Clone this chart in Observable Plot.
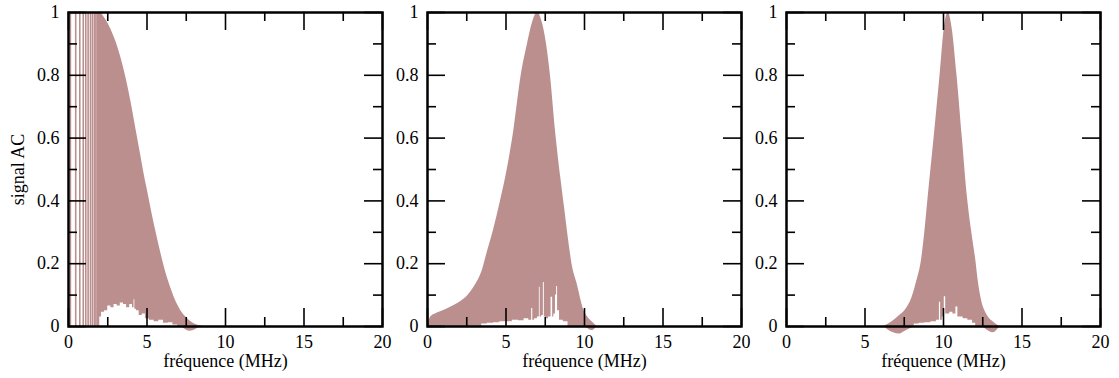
<!DOCTYPE html>
<html>
<head>
<meta charset="utf-8">
<script src="https://cdn.jsdelivr.net/npm/d3@7"></script>
<script src="https://cdn.jsdelivr.net/npm/@observablehq/plot@0.6"></script>
<style>
  html, body { margin: 0; padding: 0; background: #fff; }
  #chart { position: relative; width: 1119px; height: 378px; }
  #chart svg text { font-family: "Liberation Serif", "Times New Roman", serif !important; font-size: 18px !important; }
</style>
</head>
<body>
<div id="chart"></div>
<script>
// ---- tick values ----
const xMajor = [0, 5, 10, 15, 20];
const xMinor = [2.5, 7.5, 12.5, 17.5];
const yMajor = [0, 0.2, 0.4, 0.6, 0.8, 1];
const yMinor = [0.1, 0.3, 0.5, 0.7, 0.9];
const xTitle = "fréquence (MHz)";
const yTitle = "signal AC";

// ---- panel 1 (broadband, low frequencies) ----
const p1Lines = [0.12, 0.46, 0.72, 0.94, 1.1, 1.25, 1.4, 1.53, 1.66, 1.75, 1.85];
const p1Freq  = [1.9, 2.0, 2.2, 2.4, 2.6, 2.8, 3.0, 3.2, 3.4, 3.6, 3.8, 4.0, 4.2, 4.4, 4.6, 4.8, 5.0, 5.3, 5.6, 5.9, 6.2, 6.5, 6.8, 7.1, 7.4, 7.7, 8.0, 8.3, 8.6];
const p1Upper = [1.0, 1.0, 0.99, 0.975, 0.957, 0.935, 0.91, 0.88, 0.845, 0.805, 0.76, 0.71, 0.655, 0.6, 0.545, 0.49, 0.44, 0.365, 0.295, 0.23, 0.172, 0.125, 0.085, 0.055, 0.034, 0.019, 0.009, 0.003, 0];
const p1Floor = [0, 0, 0, 0, 0, 0, 0, 0, 0, 0, 0, 0, 0, 0, 0, 0, 0, 0, 0, 0, 0, 0, 0, 0, -0.008, -0.015, -0.012, -0.004, 0];
const p1GapFreq = [1.98, 2.0, 2.2, 2.4, 2.6, 2.8, 3.0, 3.2, 3.4, 3.6, 3.8, 4.0, 4.15, 4.2, 4.25, 4.4, 4.6, 4.8, 5.0, 5.3, 5.6, 5.9, 6.2, 6.5, 6.8, 7.1];
const p1Gap     = [0, 0.03, 0.045, 0.05, 0.065, 0.06, 0.07, 0.065, 0.075, 0.07, 0.06, 0.07, 0.06, 0.085, 0.055, 0.05, 0.035, 0.04, 0.025, 0.02, 0.015, 0.02, 0.01, 0.012, 0.005, 0];

// ---- panel 2 (peak near 7 MHz) ----
const p2Freq  = [0, 0.2, 0.5, 1.0, 1.5, 2.0, 2.5, 3.0, 3.5, 3.8, 4.2, 4.65, 5.0, 5.5, 5.97, 6.37, 6.7, 7.0, 7.3, 7.58, 7.83, 8.15, 8.5, 8.75, 9.0, 9.2, 9.53, 9.96, 10.2, 10.5, 10.8];
const p2Upper = [0, 0.03, 0.04, 0.05, 0.062, 0.076, 0.095, 0.128, 0.18, 0.235, 0.306, 0.4, 0.48, 0.624, 0.8, 0.9, 0.97, 1.0, 0.97, 0.9, 0.8, 0.624, 0.47, 0.37, 0.27, 0.2, 0.136, 0.051, 0.03, 0.014, 0];
const p2Floor = [0, 0, 0, 0, 0, 0, 0, 0, 0, 0, 0, 0, 0, 0, 0, 0, 0, 0, 0, 0, 0, 0, 0, 0, 0, 0, 0, 0, -0.006, -0.013, 0];
const p2GapFreq = [3.3, 3.6, 4.0, 4.4, 4.8, 5.2, 5.6, 6.0, 6.3, 6.6, 6.67, 6.74, 6.9, 7.1, 7.15, 7.2, 7.35, 7.41, 7.47, 7.6, 7.8, 7.94, 8.0, 8.1, 8.2, 8.25, 8.32, 8.5, 8.8, 9.1];
const p2Gap     = [0, 0.008, 0.01, 0.012, 0.015, 0.015, 0.02, 0.018, 0.025, 0.02, 0.057, 0.02, 0.025, 0.03, 0.125, 0.03, 0.035, 0.14, 0.03, 0.025, 0.03, 0.093, 0.03, 0.04, 0.1, 0.127, 0.05, 0.02, 0.015, 0];

// ---- panel 3 (peak near 10.3 MHz) ----
const p3Freq  = [6.2, 6.5, 6.81, 7.2, 7.56, 7.98, 8.3, 8.61, 8.8, 9.0, 9.4, 9.78, 10.05, 10.3, 10.55, 10.86, 11.2, 11.55, 11.8, 12.06, 12.21, 12.43, 12.74, 13.16, 13.6];
const p3Upper = [0, 0.008, 0.018, 0.035, 0.052, 0.09, 0.145, 0.215, 0.295, 0.4, 0.6, 0.8, 0.95, 1.0, 0.95, 0.8, 0.6, 0.4, 0.3, 0.21, 0.146, 0.082, 0.04, 0.015, 0];
const p3Floor = [0, -0.012, -0.02, -0.024, -0.015, -0.005, 0, 0, 0, 0, 0, 0, 0, 0, 0, 0, 0, 0, 0, 0, 0, 0, -0.01, -0.02, 0];
const p3GapFreq = [7.98, 8.3, 8.6, 9.0, 9.4, 9.7, 9.78, 9.85, 10.0, 10.1, 10.18, 10.3, 10.5, 10.7, 10.88, 10.95, 11.1, 11.4, 11.7, 12.0, 12.1];
const p3Gap     = [0, 0.008, 0.01, 0.012, 0.015, 0.02, 0.077, 0.02, 0.03, 0.095, 0.04, 0.04, 0.045, 0.04, 0.062, 0.03, 0.03, 0.025, 0.02, 0.01, 0];

const panels = [
  {left: 0,   freq: p1Freq, upper: p1Upper, floor: p1Floor, gapFreq: p1GapFreq, gap: p1Gap, lines: p1Lines, ylabel: true},
  {left: 359, freq: p2Freq, upper: p2Upper, floor: p2Floor, gapFreq: p2GapFreq, gap: p2Gap, lines: [], ylabel: false},
  {left: 718, freq: p3Freq, upper: p3Upper, floor: p3Floor, gapFreq: p3GapFreq, gap: p3Gap, lines: [], ylabel: false}
];

const fill = "#bc8f8f";
const font = {fontFamily: "Liberation Serif", fontSize: 18};
const majX = 18 / 314 * 20, minX = 9 / 314 * 20;  // tick lengths in data units
const majY = 18 / 314, minY = 9 / 314;
const tickStyle = {stroke: "black", strokeWidth: 1.6};

const chart = document.getElementById("chart");
for (const p of panels) {
  const rows = p.freq.map((f, i) => ({f, lo: p.floor[i], hi: p.upper[i]}));
  const gapRows = p.gapFreq.map((f, i) => ({f, g: p.gap[i]}));
  const svg = Plot.plot({
    width: 400, height: 378,
    marginLeft: 68, marginRight: 18, marginTop: 12, marginBottom: 52,
    style: {fontFamily: "Liberation Serif", fontSize: "18px", background: "transparent", overflow: "visible"},
    x: {domain: [0, 20]},
    y: {domain: [0, 1]},
    marks: [
      Plot.areaY(rows, {x: "f", y1: "lo", y2: "hi", fill, curve: "monotone-x"}),
      Plot.areaY(gapRows, {x: "f", y1: 0, y2: "g", fill: "white", curve: "step"}),
      Plot.ruleX(p.lines, {y1: 0, y2: 1, stroke: fill, strokeWidth: 1.6}),
      // ticks, inside on all four sides
      Plot.ruleX(xMajor, {y1: 0, y2: majY, ...tickStyle}),
      Plot.ruleX(xMinor, {y1: 0, y2: minY, ...tickStyle}),
      Plot.ruleX(xMajor, {y1: 1 - majY, y2: 1, ...tickStyle}),
      Plot.ruleX(xMinor, {y1: 1 - minY, y2: 1, ...tickStyle}),
      Plot.ruleY(yMajor, {x1: 0, x2: majX, ...tickStyle}),
      Plot.ruleY(yMinor, {x1: 0, x2: minX, ...tickStyle}),
      Plot.ruleY(yMajor, {x1: 20 - majX, x2: 20, ...tickStyle}),
      Plot.ruleY(yMinor, {x1: 20 - minX, x2: 20, ...tickStyle}),
      Plot.frame({stroke: "black", strokeWidth: 2.5}),
      Plot.axisX({ticks: xMajor, tickSize: 0, tickPadding: 9, tickFormat: d => String(d), label: null, ...font}),
      Plot.axisY({ticks: yMajor, tickSize: 0, tickPadding: 9, tickFormat: d => String(d), label: null, ...font}),
      Plot.text([xTitle], {frameAnchor: "bottom", dy: 35, lineAnchor: "middle", fill: "black", ...font}),
      ...(p.ylabel ? [Plot.text([yTitle], {frameAnchor: "left", dx: -50, rotate: -90, lineAnchor: "middle", textAnchor: "middle", fill: "black", ...font})] : [])
    ]
  });
  svg.style.position = "absolute";
  svg.style.left = p.left + "px";
  svg.style.top = "0px";
  chart.appendChild(svg);
}
</script>
</body>
</html>
